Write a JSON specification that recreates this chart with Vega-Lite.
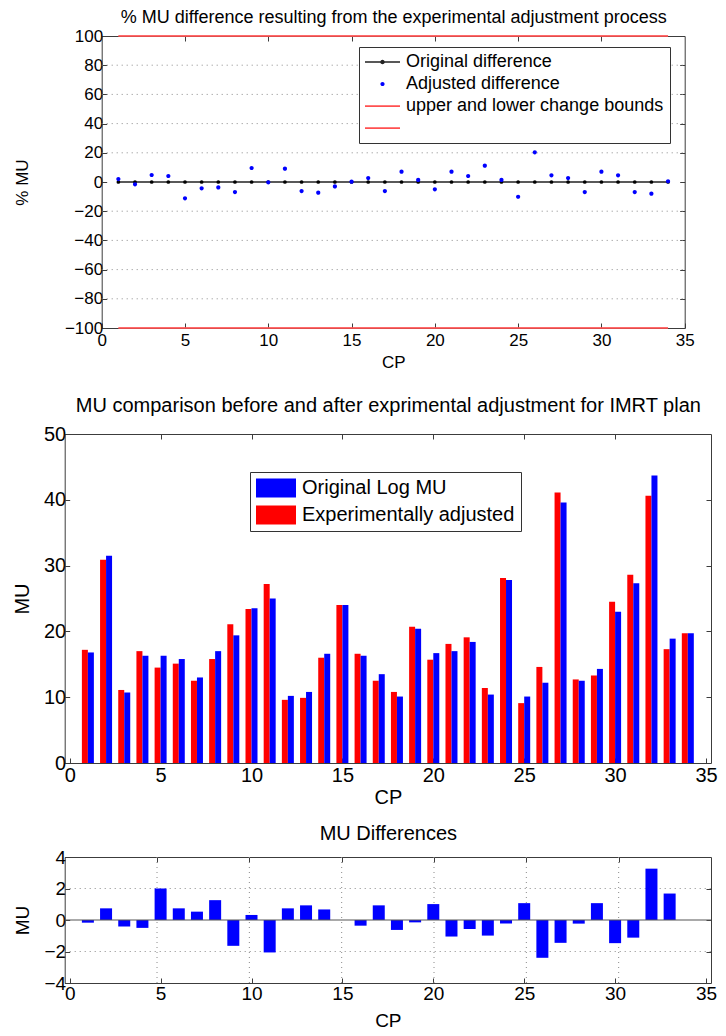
{
  "$schema": "https://vega.github.io/schema/vega-lite/v6.json",
  "background": "white",
  "autosize": {"type": "none"},
  "padding": 0,
  "width": 726,
  "height": 1036,
  "config": {
    "font": "Liberation Sans",
    "view": {"stroke": null},
    "axis": {"domain": true, "domainColor": "#3c3c3c", "domainWidth": 1, "labelColor": "#000", "titleColor": "#000", "tickColor": "#3c3c3c", "tickSize": -5, "labelFont": "Liberation Sans", "titleFont": "Liberation Sans", "titleFontWeight": "normal", "grid": false, "labelFlush": false, "labelOverlap": false},
    "legend": {"labelFont": "Liberation Sans", "labelColor": "#000"}
  },
  "datasets": {
    "rows": [
      {"cp": 1, "zero": 0, "pct": 2.0, "orig": 16.8, "adj": 17.2, "diff": -0.17},
      {"cp": 2, "zero": 0, "pct": -1.6, "orig": 31.5, "adj": 30.9, "diff": 0.74},
      {"cp": 3, "zero": 0, "pct": 4.8, "orig": 10.7, "adj": 11.1, "diff": -0.42},
      {"cp": 4, "zero": 0, "pct": 4.1, "orig": 16.3, "adj": 17.0, "diff": -0.5},
      {"cp": 5, "zero": 0, "pct": -11.2, "orig": 16.3, "adj": 14.5, "diff": 2.0},
      {"cp": 6, "zero": 0, "pct": -4.3, "orig": 15.8, "adj": 15.1, "diff": 0.74},
      {"cp": 7, "zero": 0, "pct": -3.7, "orig": 13.0, "adj": 12.5, "diff": 0.53},
      {"cp": 8, "zero": 0, "pct": -6.9, "orig": 17.0, "adj": 15.8, "diff": 1.26},
      {"cp": 9, "zero": 0, "pct": 9.6, "orig": 19.4, "adj": 21.1, "diff": -1.64},
      {"cp": 10, "zero": 0, "pct": -0.2, "orig": 23.5, "adj": 23.4, "diff": 0.32},
      {"cp": 11, "zero": 0, "pct": 9.1, "orig": 25.0, "adj": 27.2, "diff": -2.06},
      {"cp": 12, "zero": 0, "pct": -6.2, "orig": 10.2, "adj": 9.6, "diff": 0.74},
      {"cp": 13, "zero": 0, "pct": -7.3, "orig": 10.8, "adj": 9.9, "diff": 0.93},
      {"cp": 14, "zero": 0, "pct": -3.0, "orig": 16.6, "adj": 16.0, "diff": 0.67},
      {"cp": 15, "zero": 0, "pct": 0.2, "orig": 24.0, "adj": 24.0, "diff": 0},
      {"cp": 16, "zero": 0, "pct": 2.7, "orig": 16.3, "adj": 16.6, "diff": -0.36},
      {"cp": 17, "zero": 0, "pct": -6.2, "orig": 13.5, "adj": 12.5, "diff": 0.93},
      {"cp": 18, "zero": 0, "pct": 7.1, "orig": 10.1, "adj": 10.8, "diff": -0.63},
      {"cp": 19, "zero": 0, "pct": 1.4, "orig": 20.4, "adj": 20.7, "diff": -0.15},
      {"cp": 20, "zero": 0, "pct": -5.0, "orig": 16.7, "adj": 15.7, "diff": 1.01},
      {"cp": 21, "zero": 0, "pct": 7.1, "orig": 17.0, "adj": 18.1, "diff": -1.05},
      {"cp": 22, "zero": 0, "pct": 4.1, "orig": 18.4, "adj": 19.1, "diff": -0.57},
      {"cp": 23, "zero": 0, "pct": 11.2, "orig": 10.4, "adj": 11.4, "diff": -0.99},
      {"cp": 24, "zero": 0, "pct": 1.4, "orig": 27.8, "adj": 28.1, "diff": -0.23},
      {"cp": 25, "zero": 0, "pct": -10.1, "orig": 10.1, "adj": 9.1, "diff": 1.07},
      {"cp": 26, "zero": 0, "pct": 20.3, "orig": 12.2, "adj": 14.6, "diff": -2.4},
      {"cp": 27, "zero": 0, "pct": 4.6, "orig": 39.6, "adj": 41.1, "diff": -1.45},
      {"cp": 28, "zero": 0, "pct": 2.7, "orig": 12.5, "adj": 12.7, "diff": -0.23},
      {"cp": 29, "zero": 0, "pct": -6.9, "orig": 14.3, "adj": 13.3, "diff": 1.07},
      {"cp": 30, "zero": 0, "pct": 7.1, "orig": 23.0, "adj": 24.5, "diff": -1.47},
      {"cp": 31, "zero": 0, "pct": 4.6, "orig": 27.3, "adj": 28.6, "diff": -1.12},
      {"cp": 32, "zero": 0, "pct": -6.9, "orig": 43.7, "adj": 40.6, "diff": 3.26},
      {"cp": 33, "zero": 0, "pct": -8.0, "orig": 18.9, "adj": 17.3, "diff": 1.68},
      {"cp": 34, "zero": 0, "pct": 0.5, "orig": 19.7, "adj": 19.7, "diff": 0}
    ],
    "bounds": [
      {"cp": 1, "v": 100, "series": "upper"},
      {"cp": 34, "v": 100, "series": "upper"},
      {"cp": 1, "v": -100, "series": "lower"},
      {"cp": 34, "v": -100, "series": "lower"}
    ],
    "gridTopY": [{"g": -80}, {"g": -60}, {"g": -40}, {"g": -20}, {"g": 20}, {"g": 40}, {"g": 60}, {"g": 80}],
    "gridBotX": [{"g": 5}, {"g": 10}, {"g": 15}, {"g": 20}, {"g": 25}, {"g": 30}],
    "gridBotY": [{"g": -2}, {"g": 2}]
  },
  "layer": [
    {
      "data": {"name": "gridTopY"},
      "mark": {"type": "rule", "color": "#8a8a8a", "strokeDash": [1, 4], "strokeWidth": 1},
      "encoding": {
        "y": {"field": "g", "type": "quantitative", "scale": {"domain": [-100, 100], "range": [328, 36], "nice": false, "zero": false}, "axis": null},
        "x": {"datum": 0, "type": "quantitative", "scale": {"domain": [0, 35], "range": [101.7, 684.7], "nice": false, "zero": false}, "axis": null},
        "x2": {"datum": 35}
      }
    },
    {
      "data": {"name": "bounds"},
      "mark": {"type": "line", "strokeWidth": 2, "color": "#ff5050", "opacity": 0.85},
      "encoding": {
        "x": {"field": "cp", "type": "quantitative", "scale": {"domain": [0, 35], "range": [101.7, 684.7], "nice": false, "zero": false},
              "axis": {"orient": "bottom", "offset": -708, "values": [0, 5, 10, 15, 20, 25, 30, 35], "labelFontSize": 17, "labelPadding": 9, "title": "CP", "titleFontSize": 17, "titlePadding": 6}},
        "y": {"field": "v", "type": "quantitative", "scale": {"domain": [-100, 100], "range": [328, 36], "nice": false, "zero": false},
              "axis": {"orient": "left", "offset": -101.7, "values": [-100, -80, -60, -40, -20, 0, 20, 40, 60, 80, 100], "labelFontSize": 17, "labelPadding": 4, "title": "% MU", "titleFontSize": 17, "titlePadding": 33}},
        "detail": {"field": "series", "type": "nominal"}
      }
    },
    {
      "data": {"name": "rows"},
      "mark": {"type": "line", "strokeWidth": 1.5, "color": "#222222", "point": {"filled": true, "size": 14, "color": "#000000"}},
      "encoding": {
        "x": {"field": "cp", "type": "quantitative", "scale": {"domain": [0, 35], "range": [101.7, 684.7], "nice": false, "zero": false},
              "axis": {"orient": "top", "offset": -36, "values": [5, 10, 15, 20, 25, 30], "labels": false, "title": "% MU difference resulting from the experimental adjustment process", "titleFontSize": 18, "titlePadding": 9}},
        "y": {"field": "zero", "type": "quantitative", "scale": {"domain": [-100, 100], "range": [328, 36], "nice": false, "zero": false},
              "axis": {"orient": "right", "offset": -41.3, "values": [-80, -60, -40, -20, 0, 20, 40, 60, 80], "labels": false, "title": null}}
      }
    },
    {
      "data": {"name": "rows"},
      "mark": {"type": "point", "filled": true, "opacity": 1, "size": 1225},
      "encoding": {
        "x": {"field": "cp", "type": "quantitative", "scale": {"domain": [0, 35], "range": [101.7, 684.7], "nice": false, "zero": false}, "axis": null},
        "y": {"field": "pct", "type": "quantitative", "scale": {"domain": [-100, 100], "range": [328, 36], "nice": false, "zero": false}, "axis": null},
        "color": {"datum": "Adjusted difference",
                  "scale": {"domain": ["Original difference", "Adjusted difference", "upper and lower change bounds", " "], "range": ["#222222", "#0000ff", "#ff5050", "#ff5050"]},
                  "legend": {"orient": "none", "legendX": 359, "legendY": 47, "title": null, "labelFontSize": 18, "symbolSize": 1225, "symbolStrokeWidth": 0, "symbolOpacity": 1, "strokeColor": "#333", "fillColor": "white", "padding": 6, "rowPadding": 4, "labelOffset": 6, "clipHeight": 18, "labelLimit": 400}},
        "shape": {"datum": "Adjusted difference",
                  "scale": {"domain": ["Original difference", "Adjusted difference", "upper and lower change bounds", " "],
                            "range": ["M-1,-0.045H1V0.045H-1ZM-0.13,0A0.13,0.13 0 1,1 0.13,0A0.13,0.13 0 1,1 -0.13,0Z", "M-0.12,0A0.12,0.12 0 1,1 0.12,0A0.12,0.12 0 1,1 -0.12,0Z", "M-1,-0.05H1V0.05H-1Z", "M-1,-0.05H1V0.05H-1Z"]},
                  "legend": {"orient": "none", "legendX": 359, "legendY": 47, "title": null, "labelFontSize": 18, "symbolSize": 1225, "symbolStrokeWidth": 0, "symbolOpacity": 1, "strokeColor": "#333", "fillColor": "white", "padding": 6, "rowPadding": 4, "labelOffset": 6, "clipHeight": 18, "labelLimit": 400}}
      }
    },
    {
      "data": {"name": "rows"},
      "mark": {"type": "bar", "width": 6, "xOffset": -3, "color": "#ff0000"},
      "encoding": {
        "x": {"field": "cp", "type": "quantitative", "scale": {"domain": [0, 35], "range": [64.7, 711], "nice": false, "zero": false},
              "axis": {"orient": "bottom", "offset": -273, "values": [0, 5, 10, 15, 20, 25, 30, 35], "labelFontSize": 20, "labelPadding": 7, "title": "CP", "titleFontSize": 20, "titlePadding": 2}},
        "y": {"field": "adj", "type": "quantitative", "scale": {"domain": [0, 50], "range": [763, 434], "nice": false},
              "axis": {"orient": "left", "offset": -64.7, "values": [0, 10, 20, 30, 40, 50], "labelFontSize": 20, "labelPadding": 4, "title": "MU", "titleFontSize": 20, "titlePadding": 11}}
      }
    },
    {
      "data": {"name": "rows"},
      "mark": {"type": "bar", "width": 6, "xOffset": 3},
      "encoding": {
        "x": {"field": "cp", "type": "quantitative", "scale": {"domain": [0, 35], "range": [64.7, 711], "nice": false, "zero": false},
              "axis": {"orient": "top", "offset": -434, "values": [5, 10, 15, 20, 25, 30], "labels": false, "title": "MU comparison before and after exprimental adjustment for IMRT plan", "titleFontSize": 20, "titlePadding": 18}},
        "y": {"field": "orig", "type": "quantitative", "scale": {"domain": [0, 50], "range": [763, 434], "nice": false},
              "axis": {"orient": "right", "offset": -15, "values": [10, 20, 30, 40], "labels": false, "title": null}},
        "fill": {"datum": "Original Log MU", "scale": {"domain": ["Original Log MU", "Experimentally adjusted"], "range": ["#0000ff", "#ff0000"]},
                 "legend": {"orient": "none", "legendX": 250, "legendY": 472, "title": null, "labelFontSize": 20, "symbolType": "M-1,-0.48H1V0.48H-1Z", "symbolSize": 1600, "symbolStrokeWidth": 0, "symbolOpacity": 1, "strokeColor": "#333", "fillColor": "white", "padding": 6, "rowPadding": 7, "labelOffset": 6, "clipHeight": 20, "labelLimit": 400}}
      }
    },
    {
      "data": {"name": "gridBotX"},
      "mark": {"type": "rule", "color": "#8a8a8a", "strokeDash": [1, 4], "strokeWidth": 1},
      "encoding": {
        "x": {"field": "g", "type": "quantitative", "scale": {"domain": [0, 35], "range": [64.7, 711], "nice": false, "zero": false}, "axis": null},
        "y": {"datum": -4, "type": "quantitative", "scale": {"domain": [-4, 4], "range": [983, 857], "nice": false}, "axis": null},
        "y2": {"datum": 4}
      }
    },
    {
      "data": {"name": "gridBotY"},
      "mark": {"type": "rule", "color": "#8a8a8a", "strokeDash": [1, 4], "strokeWidth": 1},
      "encoding": {
        "y": {"field": "g", "type": "quantitative", "scale": {"domain": [-4, 4], "range": [983, 857], "nice": false}, "axis": null},
        "x": {"datum": 0, "type": "quantitative", "scale": {"domain": [0, 35], "range": [64.7, 711], "nice": false, "zero": false}, "axis": null},
        "x2": {"datum": 35}
      }
    },
    {
      "data": {"name": "rows"},
      "mark": {"type": "bar", "width": 12, "color": "#0000ff"},
      "encoding": {
        "x": {"field": "cp", "type": "quantitative", "scale": {"domain": [0, 35], "range": [64.7, 711], "nice": false, "zero": false},
              "axis": {"orient": "bottom", "offset": -53, "values": [0, 5, 10, 15, 20, 25, 30, 35], "labelFontSize": 19, "labelPadding": 6, "title": "CP", "titleFontSize": 19, "titlePadding": 8}},
        "y": {"field": "diff", "type": "quantitative", "scale": {"domain": [-4, 4], "range": [983, 857], "nice": false},
              "axis": {"orient": "left", "offset": -64.7, "values": [-4, -2, 0, 2, 4], "labelFontSize": 19, "labelPadding": 4, "title": "MU", "titleFontSize": 19, "titlePadding": 12}}
      }
    },
    {
      "data": {"values": [{}]},
      "mark": {"type": "rule", "color": "#555555", "strokeWidth": 1},
      "encoding": {
        "x": {"datum": 0, "type": "quantitative", "scale": {"domain": [0, 35], "range": [64.7, 711], "nice": false, "zero": false},
              "axis": {"orient": "top", "offset": -857, "values": [5, 10, 15, 20, 25, 30], "labels": false, "title": "MU Differences", "titleFontSize": 20, "titlePadding": 13}},
        "x2": {"datum": 35},
        "y": {"datum": 0, "type": "quantitative", "scale": {"domain": [-4, 4], "range": [983, 857], "nice": false},
              "axis": {"orient": "right", "offset": -15, "values": [-2, 0, 2], "labels": false, "title": null}}
      }
    }
  ],
  "resolve": {"scale": {"x": "independent", "y": "independent"}, "axis": {"x": "independent", "y": "independent"}}
}
